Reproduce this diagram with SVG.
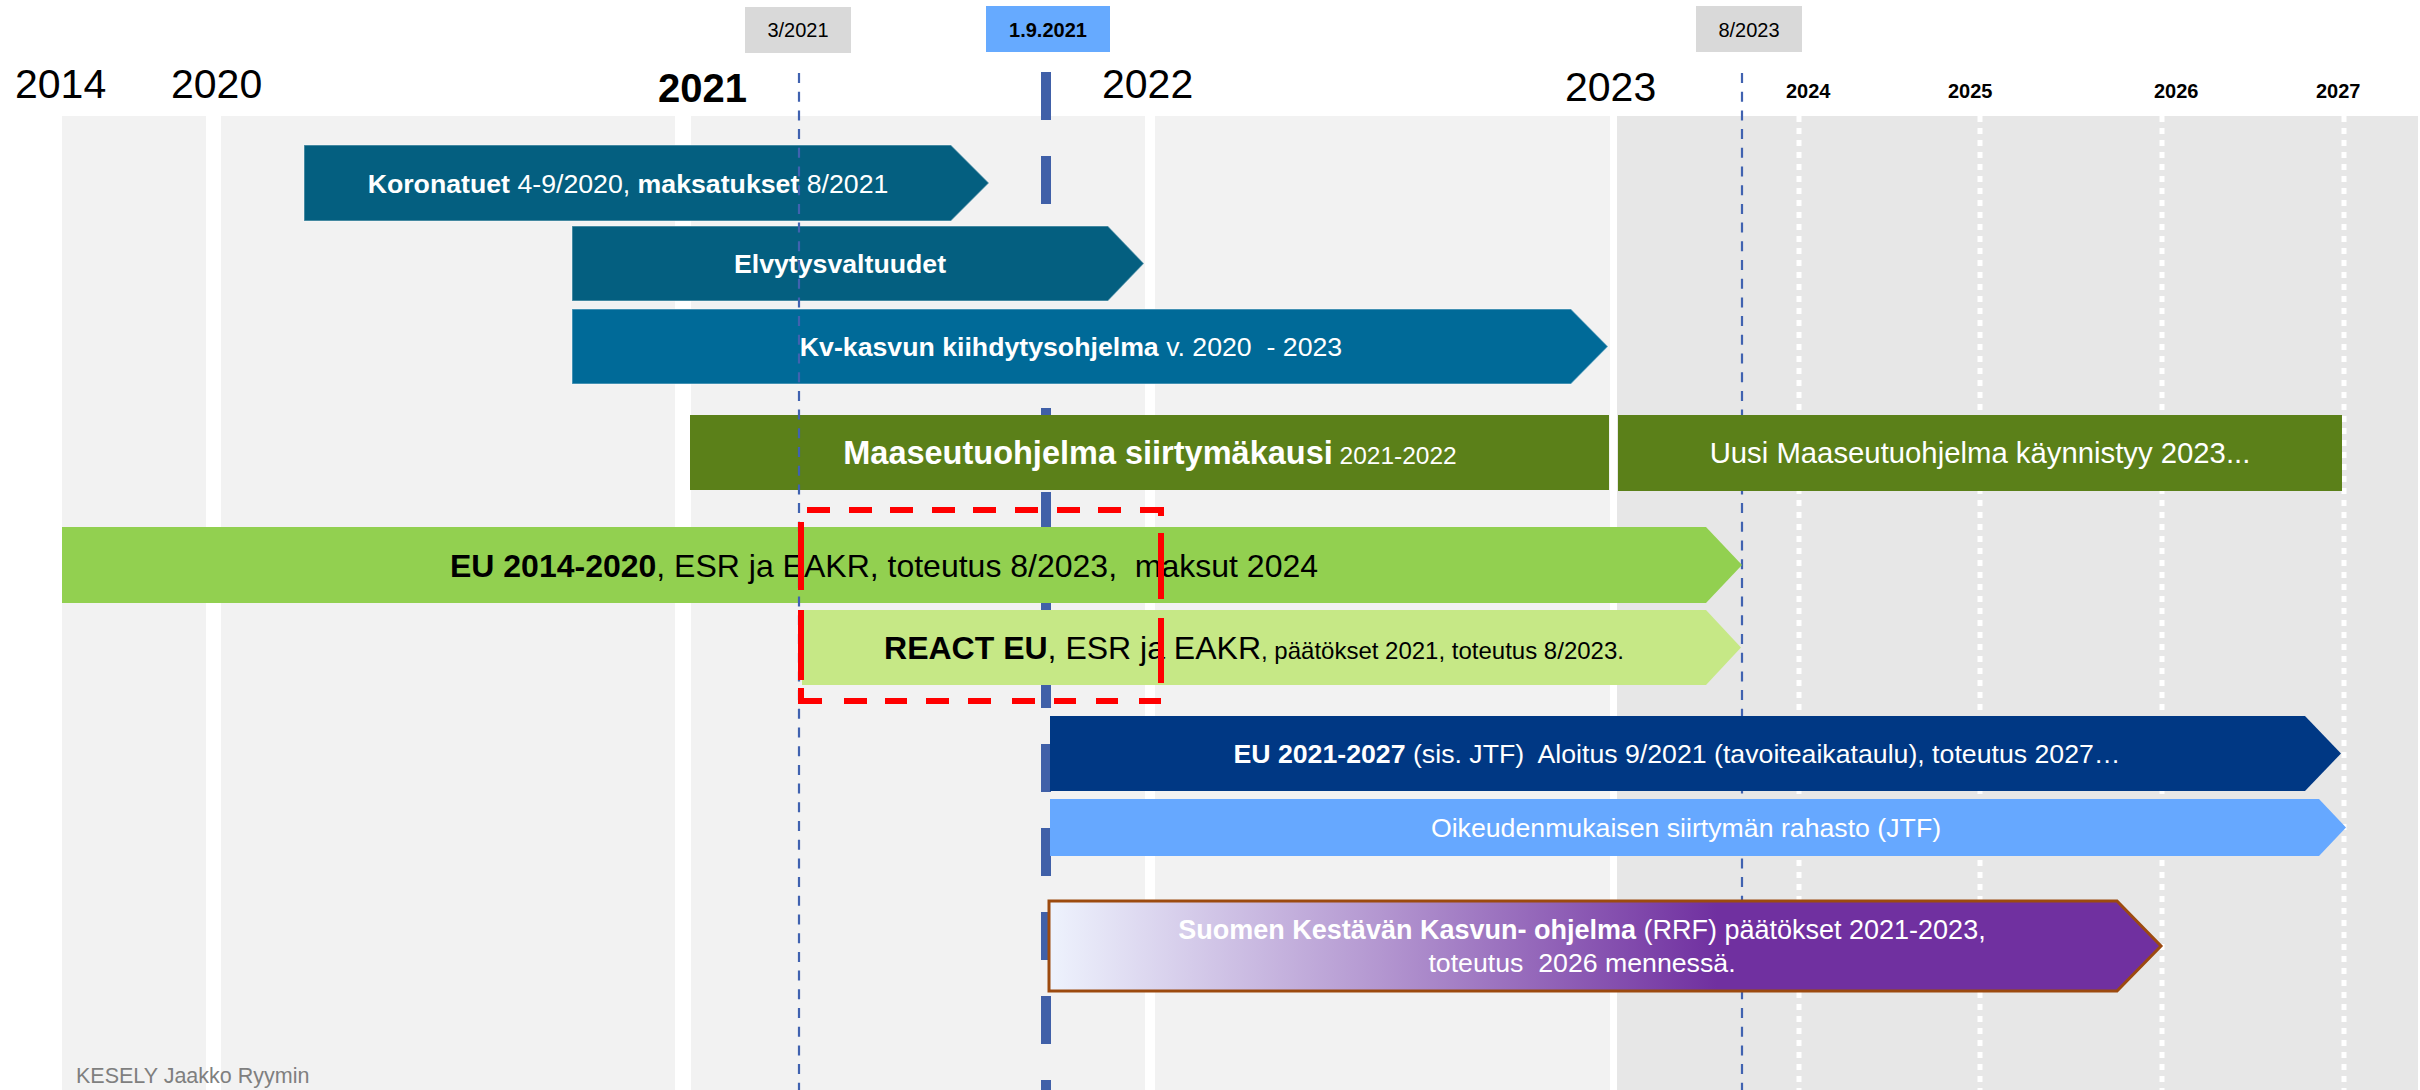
<svg xmlns="http://www.w3.org/2000/svg" width="2420" height="1090" viewBox="0 0 2420 1090">
<defs>
<style>
text{font-family:"Liberation Sans",Arial,"DejaVu Sans",sans-serif}
.yr{font-size:41px;fill:#000}
.yrs{font-size:20px;font-weight:bold;fill:#000}
.datebox{font-size:20px;fill:#000}
.w{fill:#fff}
.k{fill:#000}
.b{font-weight:bold}
.col{fill:#f2f2f2}
.col2{fill:#e7e7e7}
.dots{stroke:#fff;stroke-width:5;stroke-dasharray:6 6;fill:none}
.thin{stroke:#4062b0;stroke-width:2.2;stroke-dasharray:10 8.7;fill:none}
.bar{stroke:#ffffff;stroke-opacity:0.35;stroke-width:1.5}
</style>
<linearGradient id="rrf" gradientUnits="userSpaceOnUse" x1="1048" y1="0" x2="2162" y2="0">
<stop offset="0" stop-color="#eef3fd"/>
<stop offset="0.3" stop-color="#b396d0"/>
<stop offset="0.6" stop-color="#7030a0"/>
<stop offset="1" stop-color="#7030a0"/>
</linearGradient>
</defs>
<rect x="0" y="0" width="2420" height="1090" fill="#fff"/>
<g id="background">
<rect class="col" x="62" y="116" width="144" height="974"/>
<rect class="col" x="221" y="116" width="454" height="974"/>
<rect class="col" x="691" y="116" width="454" height="974"/>
<rect class="col" x="1155" y="116" width="455" height="974"/>
<rect class="col2" x="1617" y="116" width="801" height="974"/>
<path class="dots" d="M1799 116V1090M1980 116V1090M2162 116V1090M2344 116V1090"/>
</g>
<g id="year-labels">
<text class="yr" x="15" y="98">2014</text>
<text class="yr" x="171" y="98">2020</text>
<text class="yr b" x="658" y="102" style="font-size:40px">2021</text>
<text class="yr" x="1102" y="98">2022</text>
<text class="yr" x="1565" y="101">2023</text>
<text class="yrs" x="1786" y="98">2024</text>
<text class="yrs" x="1948" y="98">2025</text>
<text class="yrs" x="2154" y="98">2026</text>
<text class="yrs" x="2316" y="98">2027</text>
</g>
<g id="connectors">
<path class="thin" d="M1742 73V1090"/>
<path d="M1046 72V1090" stroke="#4060a8" stroke-width="10" stroke-dasharray="48 36" fill="none"/>
</g>
<g id="date-3-2021">
<rect x="745" y="7" width="106" height="46" fill="#d9d9d9"/>
<text class="datebox" x="798" y="37" text-anchor="middle">3/2021</text>
</g>
<g id="date-1-9-2021">
<rect x="986" y="6" width="124" height="46" fill="#66aaff"/>
<text class="datebox b" x="1048" y="37" text-anchor="middle">1.9.2021</text>
</g>
<g id="date-8-2023">
<rect x="1696" y="6" width="106" height="46" fill="#d9d9d9"/>
<text class="datebox" x="1749" y="37" text-anchor="middle">8/2023</text>
</g>
<g id="koronatuet">
<path class="bar" d="M304 145H951L989 183L951 221H304Z" fill="#045f80"/>
<text x="628" y="193" text-anchor="middle" style="font-size:26.7px" class="w"><tspan class="b">Koronatuet</tspan> 4-9/2020, <tspan class="b">maksatukset</tspan> 8/2021</text>
</g>
<g id="elvytysvaltuudet">
<path class="bar" d="M572 226H1108L1144 263.5L1108 301H572Z" fill="#045f80"/>
<text x="840" y="273" text-anchor="middle" style="font-size:26.7px" class="w b">Elvytysvaltuudet</text>
</g>
<g id="kv-kasvun">
<path class="bar" d="M572 309H1571L1608 346.5L1571 384H572Z" fill="#006a98"/>
<text x="1071" y="356" text-anchor="middle" style="font-size:26.7px;white-space:pre" class="w" xml:space="preserve"><tspan class="b">Kv-kasvun kiihdytysohjelma</tspan> v. 2020  - 2023</text>
</g>
<g id="maaseutu-siirtyma">
<rect x="690" y="415" width="919" height="75" fill="#5b8019"/>
<text x="1150" y="464" text-anchor="middle" class="w"><tspan class="b" style="font-size:32.5px">Maaseutuohjelma siirtymäkausi</tspan><tspan style="font-size:24.5px"> 2021-2022</tspan></text>
</g>
<g id="uusi-maaseutu">
<rect x="1618" y="415" width="724" height="76" fill="#5b8019"/>
<text x="1980" y="463" text-anchor="middle" style="font-size:29.3px" class="w">Uusi Maaseutuohjelma käynnistyy 2023...</text>
</g>
<g id="eu-2014-2020">
<path d="M62 527H1706L1742 565L1706 603H62Z" fill="#92d050"/>
<text x="884" y="577" text-anchor="middle" style="font-size:32px;white-space:pre" class="k" xml:space="preserve"><tspan class="b">EU 2014-2020</tspan>, ESR ja EAKR, toteutus 8/2023,  maksut 2024</text>
</g>
<g id="react-eu">
<path d="M802 610H1706L1741 647.5L1706 685H802Z" fill="#c6e886"/>
<text x="1254" y="659" text-anchor="middle" class="k"><tspan class="b" style="font-size:32px">REACT EU</tspan><tspan style="font-size:32px">, ESR ja EAKR</tspan><tspan style="font-size:24px">, päätökset 2021, toteutus 8/2023.</tspan></text>
</g>
<g id="eu-2021-2027">
<path d="M1050 716H2305L2341 753.5L2305 791H1050Z" fill="#003884"/>
<text x="1677" y="763" text-anchor="middle" style="font-size:26.7px;white-space:pre" class="w" xml:space="preserve"><tspan class="b">EU 2021-2027</tspan> (sis. JTF)  Aloitus 9/2021 (tavoiteaikataulu), toteutus 2027…</text>
</g>
<g id="jtf">
<path d="M1050 799H2319L2346 827.5L2319 856H1050Z" fill="#66a8ff"/>
<text x="1686" y="837" text-anchor="middle" style="font-size:26.7px" class="w">Oikeudenmukaisen siirtymän rahasto (JTF)</text>
</g>
<g id="rrf">
<path d="M1049 901H2117L2161 946L2117 991H1049Z" fill="url(#rrf)" stroke="#9c4a0f" stroke-width="3"/>
<text x="1582" y="939" text-anchor="middle" style="font-size:27px" class="w"><tspan class="b">Suomen Kestävän Kasvun- ohjelma</tspan> (RRF) päätökset 2021-2023,</text>
<text x="1582" y="972" text-anchor="middle" style="font-size:26.7px;white-space:pre" class="w" xml:space="preserve">toteutus  2026 mennessä.</text>
</g>
<g id="marker-3-2021">
<path class="thin" d="M799 73V1090"/>
</g>
<g id="red-highlight">
<path fill="none" stroke="#ff0000" stroke-width="6" d="M807 510H830M849 510H872M890 510H913M932 510H955M973 510H996M1015 510H1038M1057 510H1080M1098 510H1121M1140 510H1164M1161 507V516M1161 533V599M1161 618V683M801 522V590M801 610V680M801 688V701H822M844 701H867M885 701H907M926 701H949M968 701H991M1012 701H1035M1054 701H1076M1096 701H1118M1139 701H1161"/>
</g>
<g id="footer">
<text x="76" y="1083" style="font-size:21.5px" fill="#7f7f7f">KESELY Jaakko Ryymin</text>
</g>
</svg>
